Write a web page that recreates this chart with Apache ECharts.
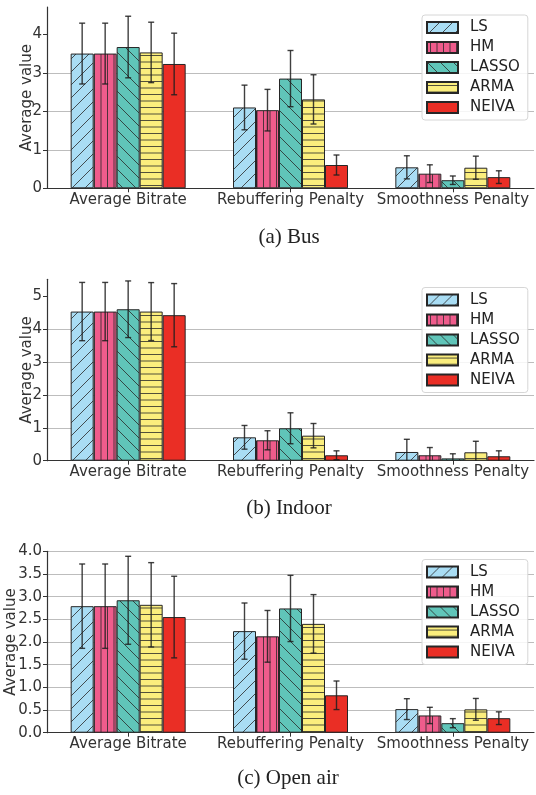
<!DOCTYPE html>
<html><head><meta charset="utf-8">
<script src="https://cdn.jsdelivr.net/npm/echarts@6/dist/echarts.min.js"></script>
<style>html,body{margin:0;padding:0;background:#fff}#c{width:536px;height:795px}</style>
</head><body><div id="c"></div>
<script>
const categories = ['Average Bitrate', 'Rebuffering Penalty', 'Smoothness Penalty'];
const methods = ['LS', 'HM', 'LASSO', 'ARMA', 'NEIVA'];
const captions = ['(a) Bus', '(b) Indoor', '(c) Open air'];
const yTicksBus = [0, 1, 2, 3, 4];
const yTicksIndoor = [0, 1, 2, 3, 4, 5];
const yTicksOpen = [0, 0.5, 1, 1.5, 2, 2.5, 3, 3.5, 4];

// means per method, per category
const busLS = [3.50, 2.10, 0.545];
const busHM = [3.50, 2.03, 0.38];
const busLASSO = [3.67, 2.85, 0.21];
const busARMA = [3.53, 2.31, 0.535];
const busNEIVA = [3.23, 0.605, 0.29];
const busErrLS = [0.79, 0.58, 0.30];
const busErrHM = [0.79, 0.54, 0.23];
const busErrLASSO = [0.80, 0.73, 0.11];
const busErrARMA = [0.785, 0.64, 0.30];
const busErrNEIVA = [0.80, 0.26, 0.165];

const indoorLS = [4.53, 0.71, 0.265];
const indoorHM = [4.53, 0.62, 0.165];
const indoorLASSO = [4.60, 0.985, 0.07];
const indoorARMA = [4.53, 0.76, 0.255];
const indoorNEIVA = [4.42, 0.165, 0.135];
const indoorErrLS = [0.885, 0.36, 0.385];
const indoorErrHM = [0.885, 0.29, 0.235];
const indoorErrLASSO = [0.86, 0.47, 0.14];
const indoorErrARMA = [0.88, 0.37, 0.335];
const indoorErrNEIVA = [0.96, 0.135, 0.165];

const openLS = [2.79, 2.24, 0.52];
const openHM = [2.79, 2.125, 0.38];
const openLASSO = [2.92, 2.74, 0.21];
const openARMA = [2.82, 2.40, 0.515];
const openNEIVA = [2.55, 0.825, 0.32];
const openErrLS = [0.93, 0.62, 0.23];
const openErrHM = [0.93, 0.57, 0.18];
const openErrLASSO = [0.97, 0.73, 0.10];
const openErrARMA = [0.93, 0.645, 0.24];
const openErrNEIVA = [0.90, 0.315, 0.14];

const panels = [
  {means: [busLS, busHM, busLASSO, busARMA, busNEIVA], errs: [busErrLS, busErrHM, busErrLASSO, busErrARMA, busErrNEIVA], ticks: yTicksBus},
  {means: [indoorLS, indoorHM, indoorLASSO, indoorARMA, indoorNEIVA], errs: [indoorErrLS, indoorErrHM, indoorErrLASSO, indoorErrARMA, indoorErrNEIVA], ticks: yTicksIndoor},
  {means: [openLS, openHM, openLASSO, openARMA, openNEIVA], errs: [openErrLS, openErrHM, openErrLASSO, openErrARMA, openErrNEIVA], ticks: yTicksOpen}
];

// layout (pixels)
const layout = [
  {top: 7, bottom: 606.7, max: 4.71, nameGap: 12, legendTop: 15, cap: [289, 237]},
  {top: 279.3, bottom: 334.3, max: 5.51, nameGap: 12, legendTop: 287.5, cap: [289, 508]},
  {top: 551.3, bottom: 62.3, max: 4.0, nameGap: 28, legendTop: 559.5, cap: [288, 778]}
];
const colors = ['#a9ddf4', '#ef5c8c', '#60c5b9', '#fbee7d', '#ea2e25'];
const hatchColor = 'rgba(40,40,40,0.8)';

function makePattern(bg, kind) {
  if (kind === null) return bg;
  const s = 13;
  const cv = document.createElement('canvas');
  cv.width = s; cv.height = s;
  const ctx = cv.getContext('2d');
  ctx.fillStyle = bg; ctx.fillRect(0, 0, s, s);
  ctx.strokeStyle = hatchColor; ctx.lineWidth = 1;
  ctx.beginPath();
  if (kind === '/') {
    for (const o of [-s, 0, s]) { ctx.moveTo(o, s); ctx.lineTo(o + s, 0); }
  } else if (kind === '\\') {
    for (const o of [-s, 0, s]) { ctx.moveTo(o, 0); ctx.lineTo(o + s, s); }
  } else if (kind === '|') {
    ctx.moveTo(3.5, 0); ctx.lineTo(3.5, s); ctx.moveTo(10, 0); ctx.lineTo(10, s);
  } else if (kind === '-') {
    ctx.moveTo(0, 3.5); ctx.lineTo(s, 3.5); ctx.moveTo(0, 10); ctx.lineTo(s, 10);
  }
  ctx.stroke();
  return {image: cv, repeat: 'repeat'};
}
const hatches = ['/', '|', '\\', '-', null];
const fills = colors.map((c, i) => makePattern(c, hatches[i]));

const BAR_W = 23;
const grids = [], xAxes = [], yAxes = [], series = [], legends = [], graphics = [];
panels.forEach((p, pi) => {
  const L = layout[pi];
  grids.push({left: 47, right: 2, top: L.top, bottom: L.bottom, containLabel: false, outerBoundsMode: 'none'});
  xAxes.push({
    type: 'category', gridIndex: pi, data: categories,
    axisLine: {show: true, lineStyle: {color: '#333', width: 1.2}},
    axisTick: {show: true, alignWithLabel: true, length: 4, lineStyle: {color: '#333'}},
    axisLabel: {fontFamily: 'DejaVu Sans', fontSize: 15, color: '#333', margin: 4, interval: 0},
    splitLine: {show: false}
  });
  yAxes.push({
    type: 'value', gridIndex: pi, min: 0, max: L.max,
    name: 'Average value', nameLocation: 'middle', nameGap: L.nameGap, nameRotate: 90,
    nameMoveOverlap: false,
    nameTextStyle: {fontFamily: 'DejaVu Sans', fontSize: 15, color: '#333'},
    axisLine: {show: true, lineStyle: {color: '#333', width: 1.2}},
    axisTick: {show: true, length: 4, lineStyle: {color: '#333'}, customValues: p.ticks},
    axisLabel: {fontFamily: 'DejaVu Sans', fontSize: 15, color: '#333', margin: 5, customValues: p.ticks,
      formatter: v => (pi === 2 ? v.toFixed(1) : String(v))},
    splitLine: {show: true, showMinLine: false, showMaxLine: pi === 2, lineStyle: {color: '#bdbdbd', width: 1}}
  });
  methods.forEach((m, mi) => {
    series.push({
      type: 'bar', name: m, xAxisIndex: pi, yAxisIndex: pi,
      data: p.means[mi], barWidth: BAR_W, barGap: '0%',
      itemStyle: {color: fills[mi], borderColor: '#262626', borderWidth: 1},
      emphasis: {disabled: true}, animation: false
    });
  });
  const errData = [];
  methods.forEach((m, mi) => {
    categories.forEach((c, ci) => {
      const mu = p.means[mi][ci], e = p.errs[mi][ci];
      errData.push([ci, mi, mu - e, mu + e]);
    });
  });
  series.push({
    type: 'custom', name: 'err' + pi, xAxisIndex: pi, yAxisIndex: pi, z: 10,
    data: errData, encode: {x: 0, y: [2, 3]}, animation: false, silent: true,
    renderItem: (params, api) => {
      const ci = api.value(0), mi = api.value(1);
      const lo = Math.max(api.value(2), 0), hi = api.value(3);
      const pt = api.coord([ci, hi]);
      const pb = api.coord([ci, lo]);
      const x = pt[0] + (mi - 2) * BAR_W;
      const st = {stroke: 'rgba(30,30,30,0.85)', lineWidth: 1.4};
      const ch = [
        {type: 'line', shape: {x1: x, y1: pt[1], x2: x, y2: pb[1]}, style: st},
        {type: 'line', shape: {x1: x - 3, y1: pt[1], x2: x + 3, y2: pt[1]}, style: st}
      ];
      if (api.value(2) > 0) ch.push({type: 'line', shape: {x1: x - 3, y1: pb[1], x2: x + 3, y2: pb[1]}, style: st});
      return {type: 'group', children: ch};
    }
  });
  legends.push({
    data: methods, left: 422, top: L.legendTop, orient: 'vertical',
    itemWidth: 31, itemHeight: 11, itemGap: 5, icon: 'rect',
    padding: [5, 8, 5, 4], borderColor: '#d6d6d6', borderWidth: 1, borderRadius: 3,
    backgroundColor: 'rgba(255,255,255,0.85)',
    textStyle: {fontFamily: 'DejaVu Sans', fontSize: 15, color: '#222', lineHeight: 14, padding: [0, 0, 0, 7]},
    selectedMode: false
  });
  graphics.push({
    type: 'text', x: L.cap[0], y: L.cap[1],
    style: {text: captions[pi], fontFamily: 'Liberation Serif', fontSize: 21, fill: '#222', align: 'center', verticalAlign: 'middle'}
  });
});

const chart = echarts.init(document.getElementById('c'), null, {renderer: 'canvas'});
chart.setOption({
  animation: false,
  grid: grids, xAxis: xAxes, yAxis: yAxes, series: series, legend: legends, graphic: graphics
});
</script></body></html>
